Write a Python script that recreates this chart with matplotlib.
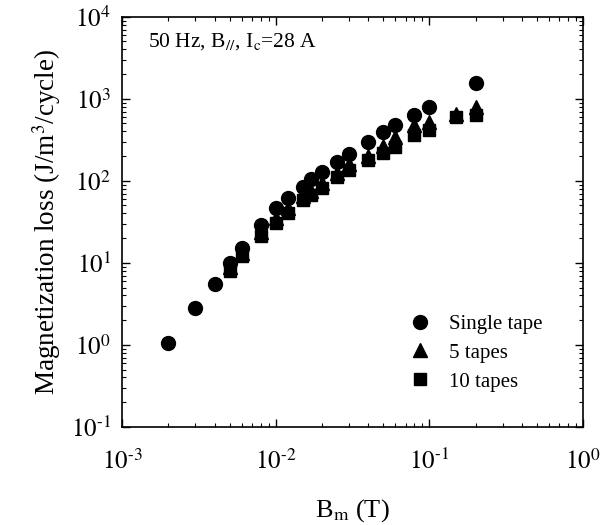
import matplotlib
matplotlib.use("Agg")
import matplotlib.pyplot as plt
from matplotlib.ticker import LogLocator, NullFormatter, FuncFormatter
import numpy as np

plt.rcParams['font.family'] = ['Liberation Serif', 'DejaVu Serif']
plt.rcParams['mathtext.fontset'] = 'stix'

# B_m (T)
b_single = [0.002, 0.003, 0.004, 0.005, 0.006, 0.008, 0.01, 0.012, 0.015,
            0.017, 0.02, 0.025, 0.03, 0.04, 0.05, 0.06, 0.08, 0.1, 0.2]
loss_single = [1.05, 2.8, 5.5, 10, 15, 29, 46, 62, 85,
               105, 128, 170, 210, 300, 390, 480, 640, 800, 1550]

b_tapes = [0.005, 0.006, 0.008, 0.01, 0.012, 0.015, 0.017, 0.02, 0.025,
           0.03, 0.04, 0.05, 0.06, 0.08, 0.1, 0.15, 0.2]
loss_5 = [9, 13, 24, 35, 46, 65, 76, 95, 125,
          160, 200, 265, 340, 480, 520, 660, 800]
loss_10 = [8, 12, 21, 31, 41, 59, 68, 82, 110,
           135, 180, 220, 260, 365, 420, 600, 630]


def pow_label(v, pos):
    e = int(round(np.log10(v)))
    if e < 0:
        return '$10^{\\text{-}%d}$' % (-e)
    return '$10^{%d}$' % e


fig = plt.figure(figsize=(6.11, 5.25), dpi=100)
ax = fig.add_axes([0.2, 0.187, 0.754, 0.781])

ax.plot(b_single, loss_single, 'o', color='black', markersize=10, label='Single tape')
ax.plot(b_tapes, loss_5, '^', color='black', markersize=10, label='5 tapes')
ax.plot(b_tapes, loss_10, 's', color='black', markersize=8.5, label='10 tapes')

ax.set_xscale('log')
ax.set_yscale('log')
ax.set_xlim(1e-3, 1)
ax.set_ylim(1e-1, 1e4)

ax.xaxis.set_major_locator(LogLocator(base=10, numticks=10))
ax.yaxis.set_major_locator(LogLocator(base=10, numticks=10))
ax.xaxis.set_minor_locator(LogLocator(base=10, subs=range(2, 10), numticks=20))
ax.yaxis.set_minor_locator(LogLocator(base=10, subs=range(2, 10), numticks=20))
ax.xaxis.set_major_formatter(FuncFormatter(pow_label))
ax.yaxis.set_major_formatter(FuncFormatter(pow_label))
ax.xaxis.set_minor_formatter(NullFormatter())
ax.yaxis.set_minor_formatter(NullFormatter())

ax.tick_params(which='both', direction='in', top=True, right=True, colors='black')
ax.tick_params(which='major', length=6, width=1, labelsize=18)
ax.tick_params(which='minor', length=3, width=0.8)
ax.tick_params(axis='x', pad=16)
ax.tick_params(axis='y', pad=8)
for spine in ax.spines.values():
    spine.set_linewidth(1.2)

ax.set_ylabel('Magnetization loss (J/m$^3$/cycle)', fontsize=19.5, labelpad=6)
ax.set_xlabel('B$_\\mathrm{m}$ (T)', fontsize=19, labelpad=16)

ax.text(0.055, 0.965, '50 Hz, B$_{//}$, I$_\\mathrm{c}$=28 A', transform=ax.transAxes,
        fontsize=15.5, va='top', ha='left')

ax.legend(loc='lower right', bbox_to_anchor=(0.945, 0.05), frameon=False, fontsize=15,
          handletextpad=0.8, labelspacing=0.45, borderaxespad=0.3, handlelength=1.2)

fig.savefig('out.png', dpi=100, facecolor='white')
